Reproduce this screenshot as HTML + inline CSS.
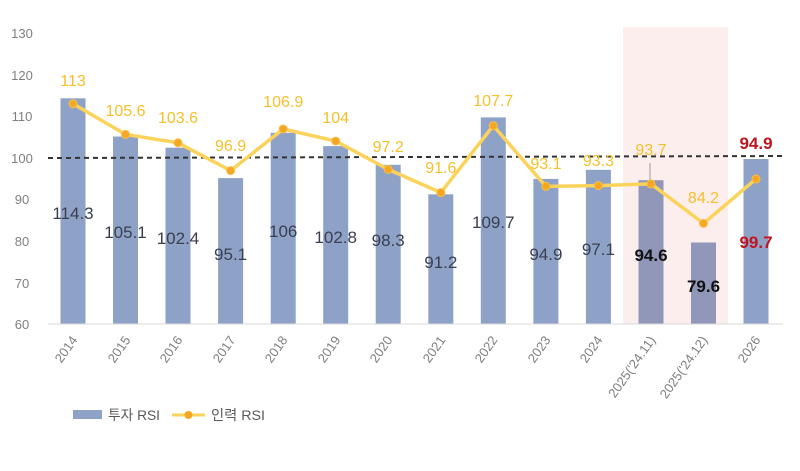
<!DOCTYPE html>
<html><head><meta charset="utf-8"><style>
html,body{margin:0;padding:0;background:#fff;}
svg{display:block;font-family:"Liberation Sans","Noto Sans CJK KR",sans-serif;}
.yl{font-size:13px;fill:#7f7f7f;text-anchor:middle;}
.xl{font-size:13px;fill:#7f7f7f;text-anchor:end;}
.bl{font-size:17px;fill:#3a3f4f;text-anchor:middle;font-weight:500;}
.ll{font-size:16px;fill:#f5c02a;text-anchor:middle;}
</style></head><body>
<svg width="800" height="471" viewBox="0 0 800 471">
<rect x="623" y="27" width="105" height="297" fill="#fdeeee"/>
<g class="yl">
<text x="22" y="38">130</text><text x="22" y="80">120</text><text x="22" y="121">110</text><text x="22" y="163">100</text><text x="22" y="204">90</text><text x="22" y="246">80</text><text x="22" y="288">70</text><text x="22" y="329">60</text>
</g>
<g fill="#8ea2c8">
<rect x="60.5" y="98.3" width="25" height="225.7"/>
<rect x="113" y="136.5" width="25" height="187.5"/>
<rect x="165.5" y="147.7" width="25" height="176.3"/>
<rect x="218.1" y="178.1" width="25" height="145.9"/>
<rect x="270.7" y="132.8" width="25" height="191.2"/>
<rect x="323.2" y="146.1" width="25" height="177.9"/>
<rect x="375.7" y="164.8" width="25" height="159.2"/>
<rect x="428.3" y="194.3" width="25" height="129.7"/>
<rect x="480.8" y="117.4" width="25" height="206.6"/>
<rect x="533.4" y="178.9" width="25" height="145.1"/>
<rect x="585.9" y="169.8" width="25" height="154.2"/>
<rect x="743.5" y="159" width="25" height="165"/>
</g>
<g fill="#9097b8">
<rect x="638.5" y="180.2" width="25" height="143.8"/>
<rect x="691" y="242.5" width="25" height="81.5"/>
</g>
<line x1="48" y1="324" x2="783" y2="324" stroke="#d9d9d9" stroke-width="1"/>
<line x1="48" y1="158" x2="785" y2="156" stroke="#333" stroke-width="2" stroke-dasharray="5,4"/>
<line x1="650" y1="163" x2="650" y2="181" stroke="#999" stroke-width="1"/>
<polyline fill="none" stroke="#fbd35a" stroke-width="3.5" stroke-linejoin="round" points="73,103.7 125.5,134.4 178,142.8 230.6,170.6 283.2,129 335.7,141.1 388.2,169.4 440.8,192.6 493.3,125.7 545.9,186.4 598.4,185.6 651,183.9 703.5,223.4 756,178.9"/>
<g fill="#f5a623" stroke="#f8c04a" stroke-width="1">
<circle cx="73" cy="103.7" r="4"/><circle cx="125.5" cy="134.4" r="4"/><circle cx="178" cy="142.8" r="4"/><circle cx="230.6" cy="170.6" r="4"/><circle cx="283.2" cy="129" r="4"/><circle cx="335.7" cy="141.1" r="4"/><circle cx="388.2" cy="169.4" r="4"/><circle cx="440.8" cy="192.6" r="4"/><circle cx="493.3" cy="125.7" r="4"/><circle cx="545.9" cy="186.4" r="4"/><circle cx="598.4" cy="185.6" r="4"/><circle cx="651" cy="183.9" r="4"/><circle cx="703.5" cy="223.4" r="4"/><circle cx="756" cy="178.9" r="4"/>
</g>
<g class="ll">
<text x="73" y="86">113</text><text x="125.5" y="116">105.6</text><text x="178" y="123">103.6</text><text x="230.6" y="151">96.9</text><text x="283.2" y="107">106.9</text><text x="335.7" y="123">104</text><text x="388.2" y="152">97.2</text><text x="440.8" y="173">91.6</text><text x="493.3" y="106">107.7</text><text x="545.9" y="169">93.1</text><text x="598.4" y="166">93.3</text><text x="651" y="155">93.7</text><text x="703.5" y="203">84.2</text>
</g>
<text x="756" y="149" class="bl" style="fill:#c0141e;font-weight:bold">94.9</text>
<g class="bl">
<text x="73" y="219">114.3</text><text x="125.5" y="238">105.1</text><text x="178" y="244">102.4</text><text x="230.6" y="260">95.1</text><text x="283.2" y="237">106</text><text x="335.7" y="243">102.8</text><text x="388.2" y="246">98.3</text><text x="440.8" y="268">91.2</text><text x="493.3" y="228">109.7</text><text x="545.9" y="260">94.9</text><text x="598.4" y="255">97.1</text>
<text x="651" y="261" style="fill:#111;font-weight:bold">94.6</text><text x="703.5" y="292" style="fill:#111;font-weight:bold">79.6</text>
<text x="756" y="248" style="fill:#c0141e;font-weight:bold">99.7</text>
</g>
<g class="xl">
<text transform="translate(78,340) rotate(-55)">2014</text>
<text transform="translate(131,340) rotate(-55)">2015</text>
<text transform="translate(183,340) rotate(-55)">2016</text>
<text transform="translate(236,340) rotate(-55)">2017</text>
<text transform="translate(288,340) rotate(-55)">2018</text>
<text transform="translate(341,340) rotate(-55)">2019</text>
<text transform="translate(393,340) rotate(-55)">2020</text>
<text transform="translate(446,340) rotate(-55)">2021</text>
<text transform="translate(498,340) rotate(-55)">2022</text>
<text transform="translate(551,340) rotate(-55)">2023</text>
<text transform="translate(603,340) rotate(-55)">2024</text>
<text transform="translate(656,340) rotate(-55)">2025('24.11)</text>
<text transform="translate(708,340) rotate(-55)">2025('24.12)</text>
<text transform="translate(761,340) rotate(-55)">2026</text>
</g>
<rect x="73" y="410" width="29" height="9" fill="#8ea2c8"/>
<text x="108" y="420" font-size="14" fill="#595959" textLength="52" lengthAdjust="spacingAndGlyphs">투자 RSI</text>
<line x1="172" y1="415" x2="205" y2="415" stroke="#fbd35a" stroke-width="3"/>
<circle cx="188.5" cy="415" r="4" fill="#f5a623"/>
<text x="211" y="420" font-size="14" fill="#595959" textLength="54" lengthAdjust="spacingAndGlyphs">인력 RSI</text>
</svg>
</body></html>
